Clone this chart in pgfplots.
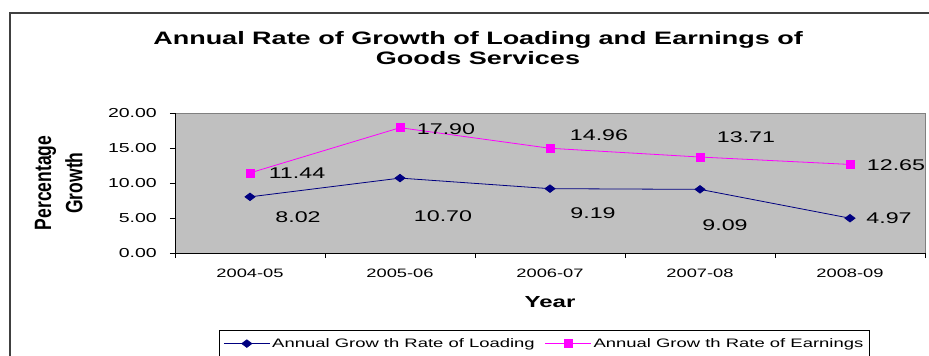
\documentclass[border=0pt]{standalone}
\usepackage{fontspec}
\setmainfont{Liberation Sans}[FakeStretch=1.5]
\newfontfamily\plainsans{Liberation Sans}
\usepackage{graphicx}
\usepackage{pgfplots}
\pgfplotsset{compat=1.18}
\usepackage{pgfplotstable}

\definecolor{plotgray}{HTML}{C0C0C0}
\definecolor{framegray}{HTML}{808080}
\definecolor{navyc}{HTML}{000080}
\definecolor{magc}{HTML}{FF00FF}

\pgfplotstableread{
x y dx dy
0 8.02 48 -20
1 10.70 43 -38
2 9.19 43 -24
3 9.09 25 -36
4 4.97 39 0
}\loading
\pgfplotstableread{
x y dx dy
0 11.44 47 0
1 17.90 46 -1
2 14.96 49 13
3 13.71 46 20
4 12.65 46 -1
}\earnings

\begin{document}
\begin{tikzpicture}[x=1pt,y=1pt]
\useasboundingbox (0,0) rectangle (929,356);
\draw[line width=1.5pt, color=black!75] (10,0) -- (10,343) -- (929,343);
\node[font=\fontsize{18}{20}\selectfont\bfseries, anchor=base, inner sep=0pt] at (478,311) {Annual Rate of Growth of Loading and Earnings of};
\node[font=\fontsize{18}{20}\selectfont\bfseries, anchor=base, inner sep=0pt] at (478,291) {Goods Services};
\begin{axis}[
  at={(175pt,103pt)}, anchor=south west,
  scale only axis, width=750pt, height=140pt,
  xmin=-0.5, xmax=4.5, ymin=0, ymax=20,
  axis background/.style={fill=plotgray, draw=framegray, line width=0.8pt},
  axis x line*=bottom, axis y line*=left,
  axis line style={black, line width=0.8pt, -},
  xtick={0,1,2,3,4},
  xticklabels={2004-05,2005-06,2006-07,2007-08,2008-09},
  minor xtick={-0.5,0.5,1.5,2.5,3.5,4.5},
  ytick={0,5,10,15,20},
  tick align=outside,
  major tick length=5pt, minor tick length=5pt,
  major x tick style={draw=none},
  minor x tick style={black, line width=0.8pt},
  major y tick style={black, line width=0.8pt},
  xtick pos=bottom, ytick pos=left,
  /pgf/number format/.cd, fixed, fixed zerofill, precision=2, assume math mode=true,
  /pgfplots/.cd,
  yticklabel style={font=\fontsize{13}{15}\selectfont, anchor=east, inner sep=0pt},
  yticklabel shift=13pt,
  xticklabel style={font=\fontsize{12.2}{14}\selectfont, anchor=center, inner sep=0pt},
  xticklabel shift=15pt,
  xlabel={Year},
  every axis x label/.style={at={(axis description cs:0.5,-0.35)}, anchor=center, font=\fontsize{16}{18}\selectfont\bfseries},
  ylabel={\scalebox{1}[1.35]{Percentage}\\[8pt]\scalebox{1}[1.35]{Growth}},
  every axis y label/.style={at={(axis description cs:-0.155,0.5)}, anchor=center, rotate=90, align=center, font=\plainsans\fontsize{17.5}{22}\selectfont\bfseries},
  legend columns=2,
  legend style={at={(axis description cs:0.0587,-0.55)}, anchor=north west, draw=black, fill=white, line width=0.8pt,
    font=\fontsize{12.3}{14}\selectfont, inner xsep=4pt, inner ysep=6pt,
    /tikz/every even column/.append style={column sep=8pt}},
  legend image code/.code={\draw[mark repeat=2,mark phase=2] plot coordinates {(0pt,0pt) (23pt,0pt) (46pt,0pt)};},
  nodes near coords={\pgfmathprintnumber{\pgfplotspointmeta}},
  visualization depends on={\thisrow{dx} \as \dx},
  visualization depends on={\thisrow{dy} \as \dy},
  every node near coord/.append style={anchor=center, xshift=\dx, yshift=\dy, font=\fontsize{15.5}{18}\selectfont, text=black},
  clip=false,
]
\addplot[navyc, line width=0.8pt, mark=diamond*, mark size=5pt, mark options={rotate=90, fill=navyc, draw=navyc}, point meta=y] table[x=x,y=y] {\loading};
\addlegendentry{Annual Grow th Rate of Loading}
\addplot[magc, line width=0.8pt, mark=square*, mark size=4pt, mark options={fill=magc, draw=magc}, point meta=y] table[x=x,y=y] {\earnings};
\addlegendentry{Annual Grow th Rate of Earnings}
\end{axis}
\end{tikzpicture}
\end{document}
